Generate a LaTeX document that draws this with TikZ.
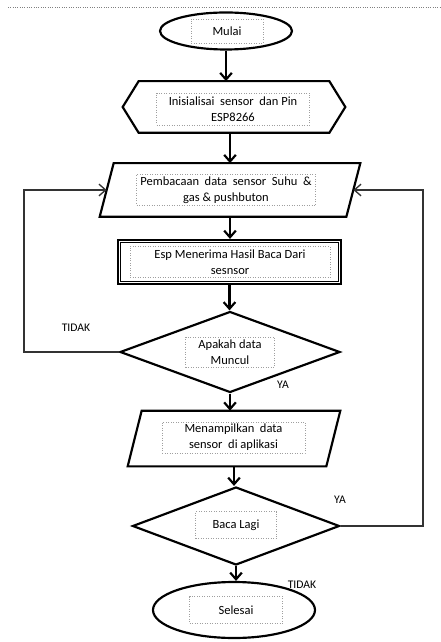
\documentclass[tikz,border=0pt]{standalone}
\usepackage{fontspec}
\setmainfont{Carlito}
\usetikzlibrary{positioning,arrows.meta,shapes.geometric}

\begin{document}
\begin{tikzpicture}[x=0.6pt,y=-0.6pt,>={Straight Barb[length=4pt,width=7pt]},
  outline/.style={draw,line width=1.3pt,inner sep=0pt},
  body/.style={inner sep=0pt},
  txtbox/.style={draw=gray!75,densely dotted,line width=0.5pt,align=center,inner sep=1pt,font=\fontsize{7.5}{9.6}\selectfont},
  flow/.style={->,line width=1.3pt},
  back/.style={->,line width=0.8pt,draw=black!80},
  lbl/.style={font=\fontsize{7}{8}\selectfont}]
\useasboundingbox (0,0) rectangle (440,642);
\draw[gray,densely dotted] (8,7) -- (440,7);
% shapes
\node[outline,ellipse,minimum width=79.2pt,minimum height=22.2pt] (mulai) at (226,31) {};
\node[body,minimum width=114pt,minimum height=30.6pt] (init) at (234,107) {};
\draw[outline] ([xshift=-9.6pt]init.west) -- (init.north west) -- (init.north east) -- ([xshift=9.6pt]init.east) -- (init.south east) -- (init.south west) -- cycle;
\node[body,minimum width=147.6pt,minimum height=31.8pt] (baca) at (230,190) {};
\draw[outline] ([xshift=4.2pt]baca.north west) -- ([xshift=4.2pt]baca.north east) -- ([xshift=-4.2pt]baca.south east) -- ([xshift=-4.2pt]baca.south west) -- cycle;
\node[outline,minimum width=133.8pt,minimum height=26.4pt] (esp) at (229.5,262) {};
\draw[line width=0.6pt] ([shift={(1.9pt,-1.9pt)}]esp.north west) rectangle ([shift={(-1.9pt,1.9pt)}]esp.south east);
\node[outline,diamond,minimum width=132pt,minimum height=48.6pt] (apakah) at (230,352) {};
\node[body,minimum width=118.8pt,minimum height=33pt] (tampil) at (234,438.5) {};
\draw[outline] ([xshift=4.2pt]tampil.north west) -- ([xshift=4.2pt]tampil.north east) -- ([xshift=-4.2pt]tampil.south east) -- ([xshift=-4.2pt]tampil.south west) -- cycle;
\node[outline,diamond,minimum width=124.2pt,minimum height=46.8pt] (lagi) at (236,526) {};
\node[outline,ellipse,minimum width=97.2pt,minimum height=33.6pt] (selesai) at (234,610) {};
% texts
\node[txtbox,minimum width=43.2pt,minimum height=14.4pt] (mulaiT) at (227,31) {Mulai};
\node[txtbox,minimum width=91.8pt,minimum height=19.2pt] (initT) at (233,109) {Inisialisai\ \ sensor\ \ dan Pin\\ESP8266};
\node[txtbox,minimum width=107.4pt,minimum height=18.6pt] (bacaT) at (226,190) {Pembacaan\ \ data\ \ sensor\ \ Suhu\ \ \&\\gas \& pushbuton};
\node[txtbox,minimum width=120pt,minimum height=18.6pt] (espT) at (230,262) {Esp Menerima Hasil Baca Dari\\sesnsor};
\node[txtbox,minimum width=53.4pt,minimum height=18pt] (apakahT) at (230,352) {Apakah data\\Muncul};
\node[txtbox,minimum width=85.8pt,minimum height=18.6pt] (tampilT) at (233.5,437.5) {Menampilkan\ \ data\\sensor\ \ di aplikasi};
\node[txtbox,minimum width=48.6pt,minimum height=16.2pt] (lagiT) at (236,525) {Baca Lagi};
\node[txtbox,minimum width=55.8pt,minimum height=16.2pt] (selesaiT) at (236,610) {Selesai};
% labels
\node[lbl] (tidak1) at (76,328) {TIDAK};
\node[lbl] (ya1) at (283,385) {YA};
\node[lbl] (ya2) at (340,500) {YA};
\node[lbl] (tidak2) at (302,585) {TIDAK};
% connectors
\draw[flow] (mulai.south) -- (mulai.south |- init.north);
\draw[flow] (baca.north |- init.south) -- (baca.north);
\draw[flow] (baca.south) -- (baca.south |- esp.north);
\draw[flow] (esp.south) -- (esp.south |- apakah.north);
\draw[flow] (apakah.south) -- (apakah.south |- tampil.north);
\draw[flow] (tampil.south) -- (tampil.south |- lagi.north);
\draw[flow] (lagi.south) -- (lagi.south |- selesai.north);
\coordinate (kiri) at (24,190);
\coordinate (kanan) at (423,190);
\draw[back] (apakah.west) -| (kiri) -- (baca.west);
\draw[back] (lagi.east) -| (kanan) -- (baca.east);
\end{tikzpicture}
\end{document}
